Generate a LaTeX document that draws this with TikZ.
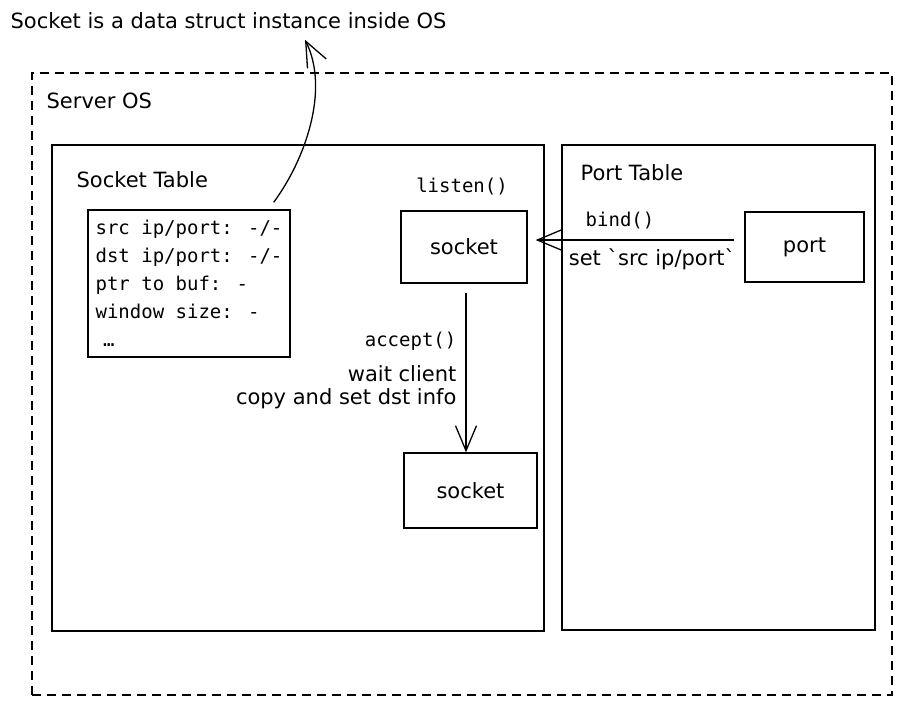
\documentclass[tikz,border=0pt]{standalone}
\usepackage{fontspec}
\setmainfont{DejaVu Sans}
\newfontfamily\codefont{DejaVu Sans Mono}
\usepackage{tikz}
\usetikzlibrary{arrows.meta}
\newcommand*{\handtext}{\fontsize{21}{24}\selectfont}
\newcommand*{\codetext}{\codefont\fontsize{19}{28}\selectfont}

\begin{document}
\begin{tikzpicture}[x=1pt,y=-1pt,line width=1.3pt,
		box/.style={draw,inner sep=0pt,font=\handtext},
		lbl/.style={inner sep=0pt,font=\handtext},
		code/.style={inner sep=0pt,font=\codetext},
		arr/.style={-{Straight Barb[length=25pt,width=21pt,line width=1.3pt]}}]
		\useasboundingbox (0,0) rectangle (901,705);
		\node[box,dashed,dash pattern=on 9pt off 6pt,minimum width=860pt,minimum height=622pt] (os) at (462,384) {};
		\node[box,minimum width=492pt,minimum height=486pt] (socktab) at (298,388) {};
		\node[box,minimum width=313pt,minimum height=485pt] (porttab) at (718.5,387.5) {};
		\node[lbl,anchor=west] (title) at (10,21) {Socket is a data struct instance inside OS};
		\node[lbl,anchor=west] (oslbl) at (46,101) {Server OS};
		\node[lbl,anchor=west] (socklbl) at (76,180) {Socket Table};
		\node[lbl,anchor=west] (portlbl) at (580,173) {Port Table};
		\node[box,font=\codetext,align=left,minimum width=202pt,minimum height=147pt] (sockstruct) at (189,283.5)
			{src ip/port: -/-\\dst ip/port: -/-\\ptr to buf: -\\window size: -\\\hspace*{0.4em}…};
		\node[code] (listen) at (462,186) {listen()};
		\node[box,minimum width=126pt,minimum height=72pt] (sock1) at (464,247) {socket};
		\node[box,minimum width=119pt,minimum height=70pt] (port) at (804.5,247) {port};
		\node[box,minimum width=133pt,minimum height=75pt] (sock2) at (470.5,490.5) {socket};
		\node[code] (bind) at (620,221) {bind()};
		\node[lbl] (setsrc) at (652,259) {set \textasciigrave src ip/port\textasciigrave};
		\node[code,anchor=east] (accept) at (457,341) {accept()};
		\node[lbl,anchor=east] (wait) at (457,374) {wait client};
		\node[lbl,anchor=east] (copy) at (457,399) {copy and set dst info};
		\draw[arr] ([xshift=-17pt,yshift=7pt]sockstruct.north east)
			.. controls (305,160) and (330,90) .. ([xshift=295pt,yshift=-10pt]title.south west);
		\draw[arr] ([xshift=-10pt,yshift=7pt]port.west) -- ([xshift=8pt,yshift=7pt]sock1.east);
		\draw[arr] ([xshift=2pt,yshift=-9pt]sock1.south) -- ([xshift=2pt]sock1.south |- sock2.north);
	\end{tikzpicture}
\end{document}
